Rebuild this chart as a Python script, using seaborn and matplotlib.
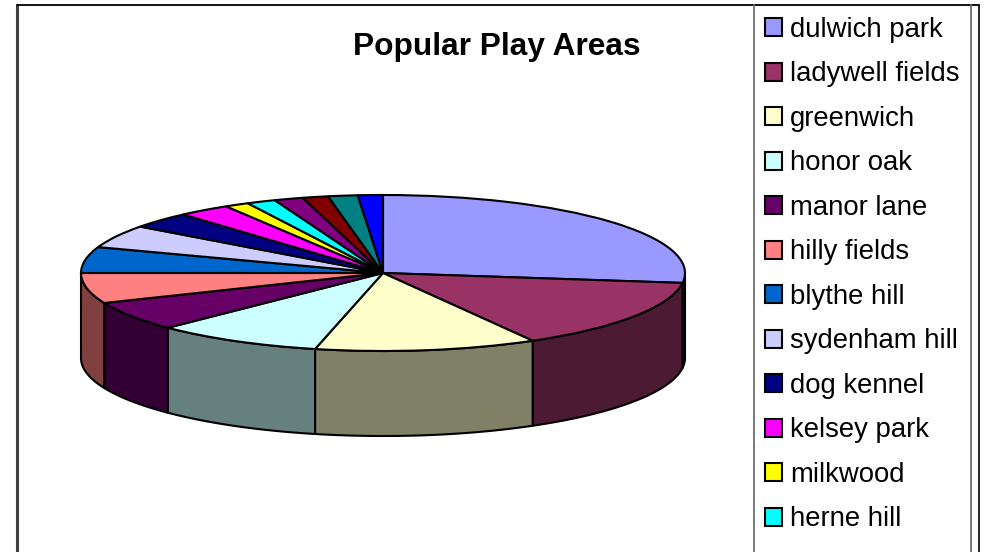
import numpy as np
import matplotlib
matplotlib.use("Agg")
import matplotlib.pyplot as plt
from matplotlib.lines import Line2D
import seaborn as sns

# --- data (share of the pie, in degrees) ---
names = ["dulwich park", "ladywell fields", "greenwich", "honor oak", "manor lane", "hilly fields",
         "blythe hill", "sydenham hill", "dog kennel", "kelsey park", "milkwood", "herne hill"]
values = [97.3, 53.0, 42.7, 32.4, 22.0, 22.6, 19.4, 17.1, 12.1, 10.1, 4.7, 5.6, 5.6, 4.9, 5.7, 4.8]
colors = ["#9999FF", "#993366", "#FFFFCC", "#CCFFFF", "#660066", "#FF8080", "#0066CC", "#CCCCFF",
          "#000080", "#FF00FF", "#FFFF00", "#00FFFF", "#800080", "#800000", "#008080", "#0000FF"]

W, H = 989, 552
cx, cy, rx, ry, depth = 383, 273, 302, 78, 85
lw = 1.5

sns.set_theme(style="white")
plt.rcParams["font.family"] = ["Liberation Sans", "DejaVu Sans"]
palette = sns.color_palette(colors)

fig = plt.figure(figsize=(W / 100, H / 100), dpi=100, facecolor="white")
ax = fig.add_axes([0, 0, 1, 1])

# top of the pie: squashed by the axes limits
wedges, _ = ax.pie(values, colors=palette, startangle=90, counterclock=False,
                   wedgeprops=dict(edgecolor="black", linewidth=lw, zorder=3))
ax.set_aspect("auto")
ax.set_xlim(-cx / rx, (W - cx) / rx)
ax.set_ylim((cy - H) / ry, cy / ry)
ax.axis("off")

# side wall, only the front half of the rim
d = depth / ry
edges = np.concatenate([[0], np.cumsum(values)]) * 360 / sum(values)
for i, col in enumerate(palette):
    a0, a1 = max(edges[i], 90), min(edges[i + 1], 270)
    if a1 <= a0:
        continue
    t = np.radians(90 - np.linspace(a0, a1, 60))
    xs = np.cos(t)
    ys = np.sin(t)
    dark = tuple(c * 0.5 for c in col)
    ax.fill(np.r_[xs, xs[::-1]], np.r_[ys, ys[::-1] - d], facecolor=dark,
            edgecolor="black", linewidth=lw, joinstyle="round", zorder=2)

fig.text(497 / W, 1 - 47 / H, "Popular Play Areas", fontsize=22.8, fontweight="bold",
         ha="center", va="center", color="black")

# legend, first twelve slices
leg = ax.legend(wedges[:12], names, loc="upper left", bbox_to_anchor=(759 / W, 1 - 11.5 / H),
                bbox_transform=fig.transFigure, frameon=False, fontsize=19.8, borderpad=0.2,
                borderaxespad=0, labelspacing=0.672, handlelength=0.62, handleheight=0.62,
                handletextpad=0.3, labelcolor="black")
for h in leg.get_patches():
    h.set_linewidth(lw)

# frame lines of the sheet
frame = [((17, 17), (5, H), "#404040", 2.2), ((17, 979), (5, 5), "black", 1.3),
         ((754, 754), (5, H), "#707070", 1.3), ((971, 971), (5, H), "#707070", 1.3),
         ((979, 979), (5, H), "black", 1.2)]
for xx, yy, c, w in frame:
    fig.add_artist(Line2D([x / W for x in xx], [1 - y / H for y in yy], color=c, linewidth=w))

fig.savefig("out.png", dpi=100)
